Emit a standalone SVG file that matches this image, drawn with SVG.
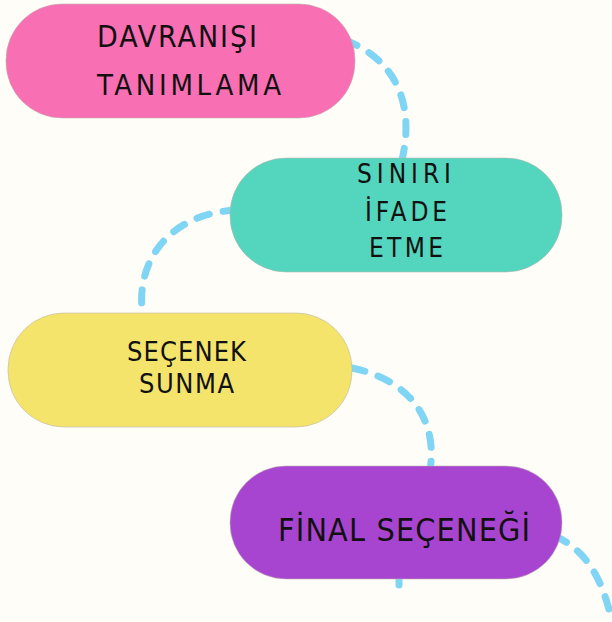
<svg xmlns="http://www.w3.org/2000/svg" width="612" height="622" viewBox="0 0 612 622">
<style>
.bg{fill:#fffdf8}
.node{stroke:#b9b3ad;stroke-opacity:0.55;stroke-width:1}
.conn{fill:none;stroke:#80d4f4;stroke-width:7;stroke-linecap:round;stroke-dasharray:13 14}
.lbl{font-family:"Liberation Sans Narrow","DejaVu Sans Condensed","Liberation Sans",sans-serif;fill:#111;}
</style>
<rect class="bg" x="0" y="0" width="612" height="622"/>
<g id="connectors">
<path class="conn" d="M345,40 C392,58 416,100 402,160"/>
<path class="conn" d="M236,210 C168,214 134,262 143,318"/>
<path class="conn" d="M352,368 C410,380 438,420 430,470"/>
<path class="conn" d="M555,536 C590,552 604,585 612,622"/>
<path class="conn" d="M399,572 L399,586"/>
</g>
<g id="node1">
<rect class="node" x="6" y="4" width="349" height="114" rx="56" fill="#f96fb3"/>
<text class="lbl" font-size="30" x="97" y="47" textLength="160" lengthAdjust="spacing">DAVRANIŞI</text>
<text class="lbl" font-size="29" x="97" y="95" textLength="184" lengthAdjust="spacing">TANIMLAMA</text>
</g>
<g id="node2">
<rect class="node" x="230" y="158" width="332" height="114" rx="56" fill="#53d6bd"/>
<text class="lbl" font-size="26" x="357" y="183" textLength="94" lengthAdjust="spacing">SINIRI</text>
<text class="lbl" font-size="26" x="365" y="221" textLength="82" lengthAdjust="spacing">İFADE</text>
<text class="lbl" font-size="26" x="369" y="257" textLength="74" lengthAdjust="spacing">ETME</text>
</g>
<g id="node3">
<rect class="node" x="8" y="313" width="344" height="114" rx="56" fill="#f5e46c"/>
<text class="lbl" font-size="27" x="127" y="361" textLength="119" lengthAdjust="spacing">SEÇENEK</text>
<text class="lbl" font-size="27" x="139" y="393" textLength="95" lengthAdjust="spacing">SUNMA</text>
</g>
<g id="node4">
<rect class="node" x="230" y="466" width="332" height="113" rx="56" fill="#a845d0"/>
<text class="lbl" font-size="32" x="278" y="541" textLength="252" lengthAdjust="spacing">FİNAL SEÇENEĞİ</text>
</g>
</svg>
